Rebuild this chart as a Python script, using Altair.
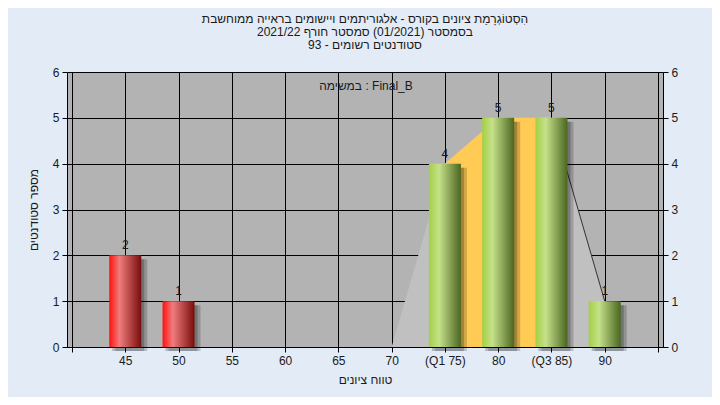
import altair as alt
import pandas as pd

# ---- data ----
scores = [45, 50, 55, 60, 65, 70, 75, 80, 85, 90]
counts = [2, 1, 0, 0, 0, 0, 4, 5, 5, 1]
tick_labels = ["45", "50", "55", "60", "65", "70", "(Q1 75)", "80", "(Q3 85)", "90"]
pass_mark = 55
q1, q3 = 75, 85
poly_start, poly_end = 70, 90
x_domain = [40, 95]
x_ticks = [40, 45, 50, 55, 60, 65, 70, 75, 80, 85, 90, 95]
y_domain = [0, 6]
y_ticks = [0, 1, 2, 3, 4, 5, 6]

title_lines = [
    "הִסְטוֹגְרָמַת ציונים בקורס - אלגוריתמים ויישומים בראייה ממוחשבת",
    "בסמסטר  (01/2021)  סמסטר חורף 2021/22",
    "סטודנטים רשומים - 93",
]
task_label = "במשימה : Final_B"
x_title = "טווח ציונים"
y_title = "מספר סטודנטים"

FONT = "Liberation Sans"
TXT = "#1a1a1a"

df = pd.DataFrame({"score": scores, "count": counts, "label": tick_labels})
bars_df = df[df["count"] > 0]
red_df = bars_df[bars_df["score"] < pass_mark]
green_df = bars_df[bars_df["score"] >= pass_mark]
poly_df = df[(df["score"] >= poly_start) & (df["score"] <= poly_end)]
iqr_df = df[(df["score"] >= q1) & (df["score"] <= q3)]
tail_df = df[(df["score"] >= q3) & (df["score"] <= poly_end)]

label_expr = " : ".join(
    f"datum.value == {s} ? '{l}'" for s, l in zip(scores, tick_labels)
) + " : ''"

x_axis = alt.Axis(
    values=x_ticks, labelExpr=label_expr, title=x_title,
    grid=True, gridColor="black", gridWidth=1, gridOpacity=1,
    domainColor="black", tickColor="black", tickSize=5,
    labelFontSize=12, labelColor=TXT, labelFont=FONT, labelPadding=3,
    labelFlush=False, labelOverlap=False,
    titleFontSize=12, titleFontWeight="normal", titleColor=TXT, titleFont=FONT,
    titlePadding=8,
)
X = alt.X("score:Q", scale=alt.Scale(domain=x_domain, nice=False, zero=False), axis=x_axis)

y_scale = alt.Scale(domain=y_domain, nice=False)
Y_left = alt.Y("count:Q", scale=y_scale, axis=alt.Axis(
    values=y_ticks, title=y_title, grid=True, gridColor="black", gridWidth=1,
    domainColor="black", tickColor="black", tickSize=5,
    labelFontSize=12, labelColor=TXT, labelFont=FONT, labelPadding=3, labelFlush=False,
    titleFontSize=12, titleFontWeight="normal", titleColor=TXT, titleFont=FONT,
    titlePadding=12,
))
Y_right = alt.Y("count:Q", scale=y_scale, axis=alt.Axis(
    orient="right", values=y_ticks, title=None, grid=False,
    domainColor="black", tickColor="black", tickSize=5,
    labelFontSize=12, labelColor=TXT, labelFont=FONT, labelPadding=3, labelFlush=False,
))
Y_none = alt.Y("count:Q", scale=y_scale, axis=None)

red_grad = alt.Gradient(
    gradient="linear", x1=0, x2=1, y1=0, y2=0,
    stops=[alt.GradientStop(offset=0, color="#ff1010"),
           alt.GradientStop(offset=0.32, color="#f07c7c"),
           alt.GradientStop(offset=1, color="#780c0c")],
)
green_grad = alt.Gradient(
    gradient="linear", x1=0, x2=1, y1=0, y2=0,
    stops=[alt.GradientStop(offset=0, color="#a2d044"),
           alt.GradientStop(offset=0.32, color="#c6e18a"),
           alt.GradientStop(offset=1, color="#4a6620")],
)

gray_area = alt.Chart(poly_df).mark_area(color="#c0c0c0").encode(x=X, y=Y_left)
iqr_area = alt.Chart(iqr_df).mark_area(color="#ffcb55").encode(x=X, y=Y_none)
tail_line = alt.Chart(tail_df).mark_line(color="#333333", strokeWidth=1).encode(x=X, y=Y_right)

shadow1 = alt.Chart(bars_df).mark_bar(width=32, color="black", opacity=0.22, xOffset=3, yOffset=4).encode(x=X, y=Y_none)
shadow2 = alt.Chart(bars_df).mark_bar(width=32, color="black", opacity=0.18, xOffset=6, yOffset=4).encode(x=X, y=Y_none)
red_bars = alt.Chart(red_df).mark_bar(width=32, color=red_grad).encode(x=X, y=Y_none)
green_bars = alt.Chart(green_df).mark_bar(width=32, color=green_grad).encode(x=X, y=Y_none)

values_txt = alt.Chart(bars_df).mark_text(
    baseline="alphabetic", dy=-6, fontSize=12, font=FONT, color=TXT
).encode(x=X, y=Y_none, text="count:Q")

task_txt = alt.Chart(pd.DataFrame({"t": [task_label]})).mark_text(
    fontSize=12, font=FONT, color=TXT, baseline="middle"
).encode(x=alt.value(299), y=alt.value(14), text="t:N")

chart = alt.layer(
    gray_area, iqr_area, tail_line, shadow2, shadow1, red_bars, green_bars, values_txt, task_txt
).resolve_axis(y="independent").properties(
    width=596, height=275,
    autosize=alt.AutoSizeParams(type="none"),
    padding={"left": 59, "top": 64, "right": 49, "bottom": 50},
    background="#e2ebf6",
    title=alt.TitleParams(
        text=title_lines, fontSize=12, fontWeight="normal", color=TXT, font=FONT,
        anchor="middle", lineHeight=13, offset=14,
    ),
).configure_view(fill="#b3b3b3", stroke="transparent")

chart.save("out.html", embed_options={"renderer": "svg", "actions": False})
